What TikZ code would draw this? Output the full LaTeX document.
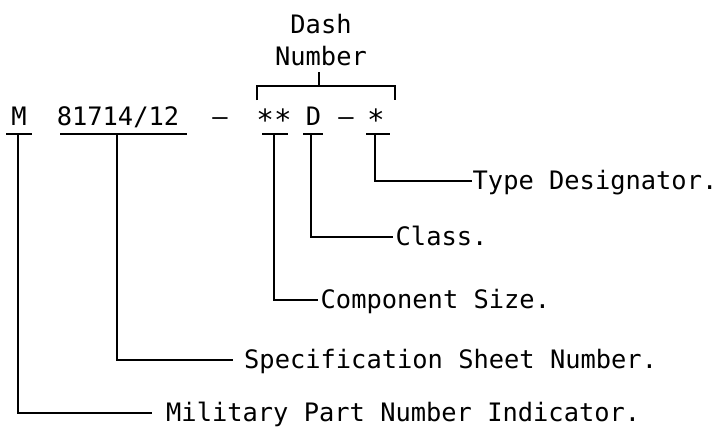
\documentclass[tikz,border=0pt]{standalone}
\usepackage{fontspec}
\newfontfamily\tw{DejaVu Sans Mono}
\newcommand{\tws}{\tw\fontsize{25.4}{28}\selectfont}
\newcommand{\lowstar}{\raisebox{-0.22em}{\scalebox{1.15}{*}}}
\begin{document}
\begin{tikzpicture}[x=1pt,y=-1pt,
  part/.style={font=\tws,inner sep=0pt,anchor=base},
  lbl/.style={font=\tws,inner sep=0pt,anchor=base west},
  link/.style={line width=1.8pt,line join=miter,line cap=butt}]
\useasboundingbox (0,0) rectangle (718,429);
% heading
\node[part] (dash) at (321,33) {Dash};
\node[part] (number) at (321,65) {Number};
% part number row
\node[part] (pM)  at (19,125)    {M};
\node[part] (pN)  at (118,125)   {81714/12};
\node[part] (pd1) at (220,125)   {–};
\node[part] (pS)  at (274,125)   {\lowstar\lowstar};
\node[part] (pD)  at (313.5,125) {D};
\node[part] (pd2) at (346,125)   {–};
\node[part] (pT)  at (376,125)   {\lowstar};
% bracket
\coordinate (bs) at (319,72);
\coordinate (bm) at (319,86);
\coordinate (bl) at (257,86);
\coordinate (br) at (395,86);
\coordinate (bld) at (257,100);
\coordinate (brd) at (395,100);
\draw[link] (bs) -- (bm);
\draw[link] (bld) -- (bl) -- (br) -- (brd);
% underlines
\coordinate (uM1) at (6,134);   \coordinate (uM2) at (32,134);
\coordinate (uN1) at (60,134);  \coordinate (uN2) at (187,134);
\coordinate (uS1) at (262,134); \coordinate (uS2) at (288,134);
\coordinate (uD1) at (303,134); \coordinate (uD2) at (323,134);
\coordinate (uT1) at (366,134); \coordinate (uT2) at (390,134);
\draw[link] (uM1) -- (uM2);
\draw[link] (uN1) -- (uN2);
\draw[link] (uS1) -- (uS2);
\draw[link] (uD1) -- (uD2);
\draw[link] (uT1) -- (uT2);
% labels
\node[lbl] (type)  at (472.5,189) {Type Designator.};
\node[lbl] (class) at (395.5,245) {Class.};
\node[lbl] (comp)  at (320.5,308) {Component Size.};
\node[lbl] (spec)  at (244,368)   {Specification Sheet Number.};
\node[lbl] (mil)   at (166,421)   {Military Part Number Indicator.};
% connector joints
\coordinate (tT) at (375,134);  \coordinate (eT) at (472,181);
\coordinate (tD) at (311,134);  \coordinate (eD) at (393,237);
\coordinate (tS) at (274,134);  \coordinate (eS) at (318,300);
\coordinate (tN) at (117,134);  \coordinate (eN) at (233,360);
\coordinate (tM) at (18,134);   \coordinate (eM) at (152,413);
\draw[link] (tT) |- (eT);
\draw[link] (tD) |- (eD);
\draw[link] (tS) |- (eS);
\draw[link] (tN) |- (eN);
\draw[link] (tM) |- (eM);
\end{tikzpicture}
\end{document}
